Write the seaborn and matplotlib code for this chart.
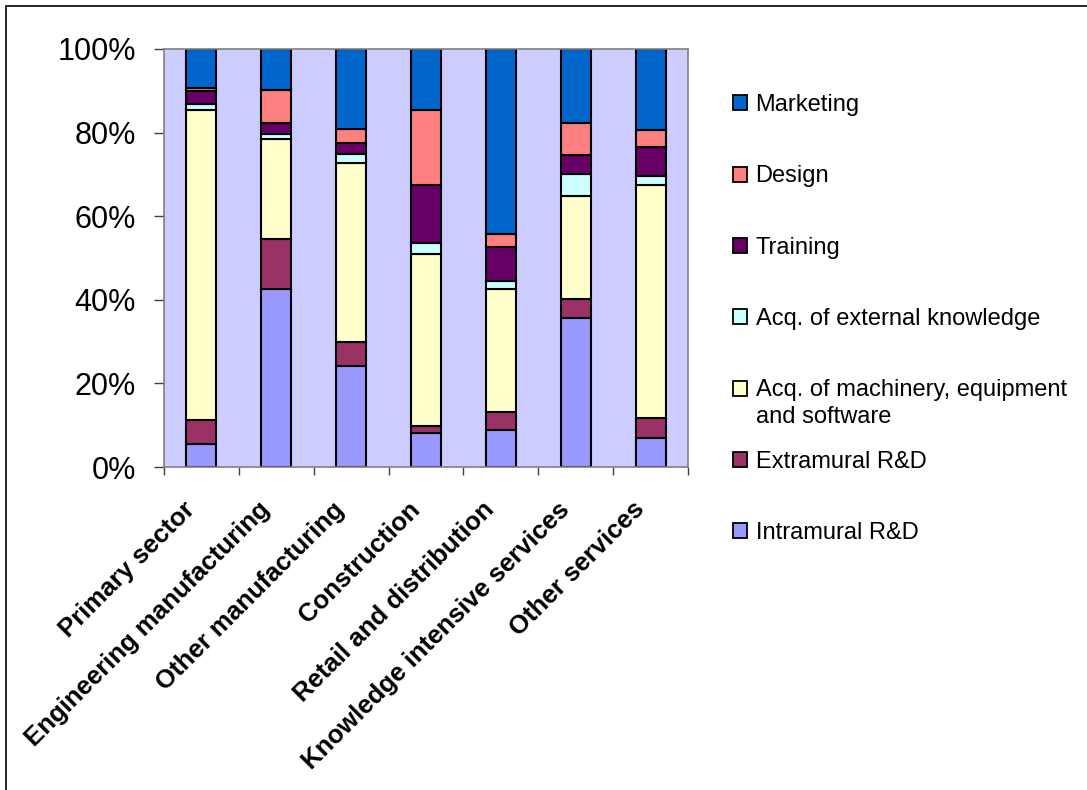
import numpy as np
import pandas as pd
import matplotlib
matplotlib.use("Agg")
import matplotlib.pyplot as plt
import matplotlib.transforms as mtransforms
from matplotlib.patches import Patch, Rectangle
from matplotlib.text import Annotation
import seaborn as sns

# Innovation expenditure shares by sector (percent of total)
sectors = ["Primary sector", "Engineering manufacturing", "Other manufacturing",
           "Construction", "Retail and distribution", "Knowledge intensive services",
           "Other services"]

intramural_rd = [5.4, 42.7, 24.2, 8.1, 8.9, 35.7, 7.0]
extramural_rd = [5.8, 11.8, 5.7, 1.6, 4.2, 4.6, 4.7]
machinery = [74.1, 24.0, 42.9, 41.2, 29.6, 24.5, 55.8]
external_knowledge = [1.6, 1.1, 2.2, 2.8, 1.9, 5.2, 2.1]
training = [3.1, 2.8, 2.4, 13.7, 8.0, 4.7, 7.0]
design = [0.7, 7.9, 3.4, 18.0, 3.1, 7.7, 4.0]
marketing = [9.3, 9.7, 19.2, 14.6, 44.3, 17.6, 19.4]

series_names = ["Intramural R&D", "Extramural R&D",
                "Acq. of machinery, equipment\nand software",
                "Acq. of external knowledge", "Training", "Design", "Marketing"]
series_values = [intramural_rd, extramural_rd, machinery, external_knowledge,
                 training, design, marketing]
series_colors = ["#9999FF", "#993366", "#FFFFCC", "#CCFFFF", "#660066",
                 "#FF8080", "#0066CC"]

y_ticks = [0, 20, 40, 60, 80, 100]
y_tick_labels = ["0%", "20%", "40%", "60%", "80%", "100%"]

sns.set_style("white")
plt.rcParams["font.family"] = ["Liberation Sans", "DejaVu Sans"]
plt.rcParams["text.color"] = "black"
plt.rcParams["xtick.labelcolor"] = "black"
plt.rcParams["ytick.labelcolor"] = "black"

W, H = 1087, 790
fig = plt.figure(figsize=(W / 100, H / 100), dpi=100)
fig.patch.set_facecolor("white")
ax = fig.add_axes([164 / W, 1 - 467 / H, 524 / W, 418 / H])
ax.set_facecolor("#CCCCFF")

# Stacked bars, bottom to top
bottom = np.zeros(len(sectors))
for name, vals, col in zip(series_names, series_values, series_colors):
    df = pd.DataFrame({"sector": sectors, "share": vals})
    sns.barplot(data=df, x="sector", y="share", order=sectors, color=col,
                bottom=bottom, width=0.4, edgecolor="black", linewidth=1.5,
                saturation=1, errorbar=None, ax=ax, zorder=2)
    bottom = bottom + np.array(vals)

ax.set_xlim(-0.5, len(sectors) - 0.5)
ax.set_ylim(0, 100)
ax.set_xlabel("")
ax.set_ylabel("")

for s in ax.spines.values():
    s.set_color("#808080")
    s.set_linewidth(1.2)

ax.set_yticks(y_ticks)
ax.set_yticklabels(y_tick_labels)
ax.tick_params(axis="y", which="major", left=True, length=7.2, width=1,
               color="#404040", labelcolor="black", pad=13, labelsize=22)

ax.set_xticks(range(len(sectors)))
ax.set_xticklabels(sectors, rotation=45, ha="right", va="center",
                   rotation_mode="anchor", fontsize=18.5, fontweight="bold",
                   color="black")
ax.tick_params(axis="x", which="major", bottom=True, length=0, pad=28)
ax.set_xticks(np.arange(-0.5, len(sectors), 1.0), minor=True)
ax.tick_params(axis="x", which="minor", bottom=True, length=6, width=1,
               color="#404040")
shift = mtransforms.ScaledTranslation(-10 / 100, 0, fig.dpi_scale_trans)
for lbl in ax.get_xticklabels():
    lbl.set_transform(lbl.get_transform() + shift)

# Legend, top entry first; a wrapped name continues on a line below its entry
order = list(range(len(series_names)))[::-1]
handles = [Patch(facecolor=series_colors[i], edgecolor="black", linewidth=1.3)
           for i in order]
labels = [series_names[i].split("\n")[0] for i in order]
leg = fig.legend(handles, labels, loc="upper left",
                 bbox_to_anchor=(732.7 / W, 1 - 94 / H), frameon=False,
                 fontsize=17, handlelength=0.6, handleheight=0.6,
                 handletextpad=0.37, labelspacing=2.09, borderpad=0,
                 borderaxespad=0, labelcolor="black")
for t, i in zip(leg.get_texts(), order):
    parts = series_names[i].split("\n")
    if len(parts) > 1:
        ann = Annotation(parts[1], xy=(0, 0), xycoords=t, xytext=(0, -3.0),
                         textcoords="offset points", ha="left", va="top",
                         fontsize=17, color="black", annotation_clip=False)
        ann.set_zorder(leg.get_zorder() + 1)
        fig.add_artist(ann)

# Chart border
fig.add_artist(Rectangle((5.5 / W, -0.05), 1.1, 1 - 5.5 / H + 0.05,
                         transform=fig.transFigure, fill=False,
                         edgecolor="black", linewidth=1.2))

fig.savefig("out.png", dpi=100)
